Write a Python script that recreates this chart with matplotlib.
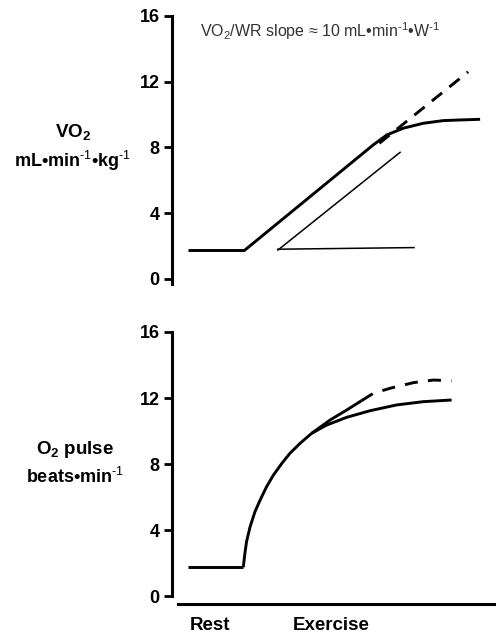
import matplotlib
matplotlib.use("Agg")
import matplotlib.pyplot as plt

plt.rcParams["font.family"] = ["Liberation Sans", "DejaVu Sans"]
plt.rcParams["mathtext.fontset"] = "custom"
plt.rcParams["mathtext.rm"] = "Liberation Sans"
plt.rcParams["mathtext.bf"] = "Liberation Sans:bold"

# x in arbitrary time units (0 = start of axis, 100 = right edge)
# --- VO2 panel ---
vo2_rest_x = [5, 22.5]
vo2_rest_y = [1.75, 1.75]
vo2_ex_x = [22.5, 62.1, 66.3, 71.4, 77.6, 83.7, 88.9, 95.1]
vo2_ex_y = [1.75, 8.15, 8.76, 9.17, 9.47, 9.63, 9.67, 9.71]
vo2_lin_x = [64.0, 91.4]
vo2_lin_y = [8.25, 12.6]
slope_x = [32.7, 70.4]
slope_y = [1.75, 7.7]
base_x = [32.7, 74.7]
base_y = [1.8, 1.9]

# --- O2 pulse panel ---
o2_rest_x = [4.9, 22.0]
o2_rest_y = [1.75, 1.75]
o2_rise_x = [22.0, 22.5, 23.0, 24.1, 25.6, 27.2, 29.2, 31.3, 33.9, 36.4, 39.5, 43.1]
o2_rise_y = [1.75, 2.59, 3.29, 4.2, 5.11, 5.82, 6.63, 7.33, 8.04, 8.65, 9.25, 9.86]
o2_up_x = [43.1, 48.8, 53.9, 58.5]
o2_up_y = [9.86, 10.67, 11.27, 11.84]
o2_dash_x = [58.5, 62.1, 67.3, 74.5, 80.7, 86.3]
o2_dash_y = [11.84, 12.28, 12.59, 12.93, 13.09, 13.05]
o2_low_x = [43.1, 47.7, 53.9, 61.1, 69.3, 77.6, 86.3]
o2_low_y = [9.86, 10.36, 10.83, 11.23, 11.58, 11.78, 11.88]

yticks = [0, 4, 8, 12, 16]
phase_labels = ["Rest", "Exercise"]

W, H = 496, 636
fig = plt.figure(figsize=(W / 100, H / 100), dpi=100)

ax_left = 172 / W
ax_w = 1 - ax_left
ax1 = fig.add_axes([ax_left, 1 - 287 / H, ax_w, (287 - 16) / H])
ax2 = fig.add_axes([ax_left, 1 - 606 / H, ax_w, (606 - 332) / H])

lw_main = 2.1
lw_thin = 1.1
kw = dict(color="black", lw=lw_main, solid_joinstyle="round", solid_capstyle="butt")

ax1.plot(vo2_rest_x, vo2_rest_y, **kw)
ax1.plot(vo2_ex_x, vo2_ex_y, **kw)
ax1.plot(vo2_lin_x, vo2_lin_y, color="black", lw=lw_main, dashes=(4.5, 3.2))
ax1.plot(slope_x, slope_y, color="black", lw=lw_thin)
ax1.plot(base_x, base_y, color="black", lw=lw_thin)

ax2.plot(o2_rest_x, o2_rest_y, **kw)
ax2.plot(o2_rise_x, o2_rise_y, **kw)
ax2.plot(o2_up_x, o2_up_y, **kw)
ax2.plot(o2_dash_x, o2_dash_y, color="black", lw=lw_main, dashes=(4.5, 3.5))
ax2.plot(o2_low_x, o2_low_y, **kw)

for ax in (ax1, ax2):
    ax.set_xlim(0, 100)
    ax.set_yticks(yticks)
    ax.set_yticklabels([str(t) for t in yticks], fontsize=13, fontweight="bold")
    ax.tick_params(axis="y", length=6, width=2.0, pad=3)
    ax.spines["left"].set_linewidth(2.2)
    ax.spines["right"].set_visible(False)
    ax.spines["top"].set_visible(False)
    ax.set_xticks([])
    ax.patch.set_alpha(0)

ax1.set_ylim(-0.5, 16)
ax1.spines["left"].set_bounds(-0.3, 16)
ax1.spines["bottom"].set_visible(False)

ax2.set_ylim(-0.6, 16)
ax2.spines["left"].set_bounds(0, 16)
ax2.spines["bottom"].set_position(("data", -0.48))
ax2.spines["bottom"].set_bounds(1.85, 100)
ax2.spines["bottom"].set_linewidth(2.2)

sup = r"$^{\text{-1}}$"
ax1.text(8.6, 15.1, r"VO$_2$/WR slope ≈ 10 mL•min" + sup + "•W" + sup,
         fontsize=11.5, color="#333333", ha="left", va="center")

bsup = r"$^{\mathbf{\text{-1}}}$"
fig.text(73 / W, 1 - 133 / H, r"VO$_\mathbf{2}$", fontsize=13.5, fontweight="bold",
         ha="center", va="center")
fig.text(73 / W, 1 - 161 / H, "mL•min" + bsup + "•kg" + bsup, fontsize=13,
         fontweight="bold", ha="center", va="center")
fig.text(75 / W, 1 - 450 / H, r"O$_\mathbf{2}$ pulse", fontsize=13.5, fontweight="bold",
         ha="center", va="center")
fig.text(75 / W, 1 - 477 / H, "beats•min" + bsup, fontsize=13,
         fontweight="bold", ha="center", va="center")

fig.text(210 / W, 1 - 625 / H, phase_labels[0], fontsize=13.5, fontweight="bold",
         ha="center", va="center")
fig.text(331 / W, 1 - 625 / H, phase_labels[1], fontsize=13.5, fontweight="bold",
         ha="center", va="center")

fig.savefig("out.png", dpi=100)
